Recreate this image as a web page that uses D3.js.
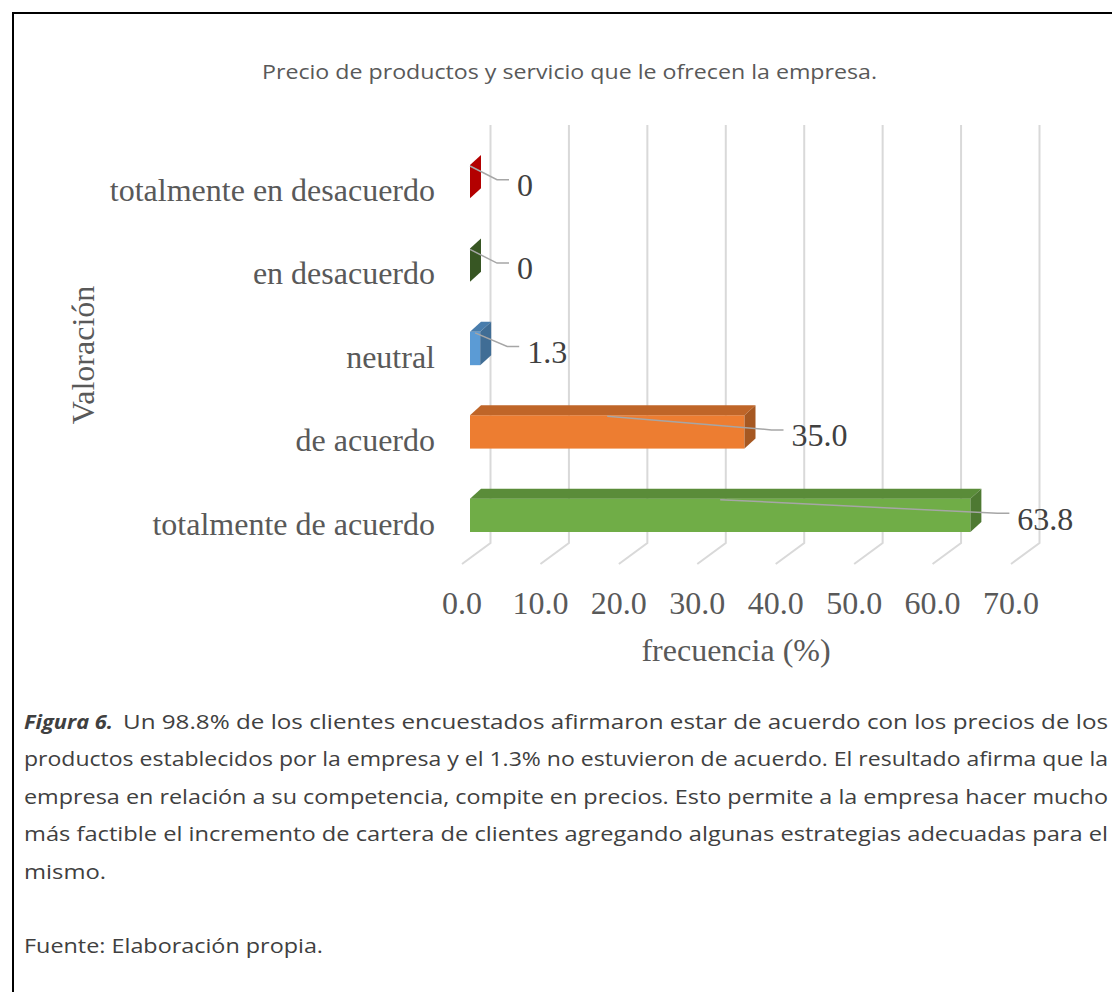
<!DOCTYPE html>
<html>
<head>
<meta charset="utf-8">
<script src="https://cdn.jsdelivr.net/npm/d3@7"></script>
<style>
  body { margin: 0; background: #fff; }
  svg { display: block; }
</style>
</head>
<body>
<svg width="1112" height="992"></svg>
<script>
// data, top row first
var categories = ['totalmente en desacuerdo', 'en desacuerdo', 'neutral', 'de acuerdo', 'totalmente de acuerdo'];
var values = [0, 0, 1.3, 35.0, 63.8];
var valueLabels = ['0', '0', '1.3', '35.0', '63.8'];
var ticks = [0, 10, 20, 30, 40, 50, 60, 70];
var barColors = ['#ff0000', '#4f7b32', '#5b9bd5', '#ed7d31', '#70ad47'];

var title = 'Precio de productos y servicio que le ofrecen la empresa.';
var xTitle = 'frecuencia (%)';
var yTitle = 'Valoración';
var captionLines = [
  'Un 98.8% de los clientes encuestados afirmaron estar de acuerdo con los precios de los',
  'productos establecidos por la empresa y el 1.3% no estuvieron de acuerdo. El resultado afirma que la',
  'empresa en relación a su competencia, compite en precios. Esto permite a la empresa hacer mucho',
  'más factible el incremento de cartera de clientes agregando algunas estrategias adecuadas para el',
  'mismo.'
];
var source = 'Fuente: Elaboración propia.';

var svg = d3.select('svg');
var grey = '#595959';
var serif = '"Liberation Serif", "Times New Roman", serif';
var sans = '"Open Sans", "Noto Sans", sans-serif';

// frame
svg.append('rect').attr('x', 13).attr('y', 13).attr('width', 1200).attr('height', 1200)
   .attr('fill', 'none').attr('stroke', '#000').attr('stroke-width', 2);

svg.append('text').attr('x', 262).attr('y', 79).text(title)
   .attr('font-family', sans).attr('font-size', 20).attr('fill', grey)
   .attr('textLength', 615).attr('lengthAdjust', 'spacingAndGlyphs');

// x scale sits on the front edge of the floor
var x = d3.scaleLinear().domain([0, 70]).range([462, 1011]);
var y = d3.scaleBand().domain(categories).range([165, 532]).paddingInner(0.6).paddingOuter(0);
var barOff = 8, backOff = 28.5, floorTop = 543, floorBot = 564;
var dx = 11, dy = -10;

var grid = svg.append('g').attr('stroke', '#d9d9d9').attr('stroke-width', 2).attr('fill', 'none');
grid.selectAll('path').data(ticks).enter().append('path')
    .attr('d', function (d) {
      return 'M' + (x(d) + backOff) + ',125 L' + (x(d) + backOff) + ',' + floorTop +
             ' L' + x(d) + ',' + floorBot;
    });

svg.append('g').selectAll('text').data(ticks).enter().append('text')
   .attr('x', function (d) { return x(d); }).attr('y', 614)
   .attr('text-anchor', 'middle').attr('font-family', serif).attr('font-size', 32).attr('fill', grey)
   .text(function (d) { return d.toFixed(1); });

svg.append('text').attr('x', 736).attr('y', 661).attr('text-anchor', 'middle')
   .attr('font-family', serif).attr('font-size', 32).attr('fill', grey).text(xTitle);

svg.append('text').attr('transform', 'translate(94,355) rotate(-90)').attr('text-anchor', 'middle')
   .attr('font-family', serif).attr('font-size', 32).attr('fill', grey).text(yTitle);

svg.append('g').selectAll('text').data(categories).enter().append('text')
   .attr('x', 435).attr('y', function (d) { return y(d) + y.bandwidth() / 2 + 8; })
   .attr('dy', '0.35em').attr('text-anchor', 'end')
   .attr('font-family', serif).attr('font-size', 32).attr('fill', grey)
   .text(function (d) { return d; });

// 3d bars
var bars = svg.append('g').selectAll('g').data(values).enter().append('g');
bars.each(function (v, i) {
  var g = d3.select(this);
  var x0 = x(0) + barOff, x1 = x(v) + barOff;
  var yt = y(categories[i]), yb = yt + y.bandwidth();
  var c = d3.color(barColors[i]);
  if (x1 - x0 > 0.5) {
    g.append('rect').attr('x', x0).attr('y', yt).attr('width', x1 - x0).attr('height', yb - yt)
     .attr('fill', c.formatHex());
    g.append('path').attr('fill', c.darker(0.6).formatHex())
     .attr('d', 'M' + x0 + ',' + yt + 'L' + (x0 + dx) + ',' + (yt + dy) + 'L' + (x1 + dx) + ',' + (yt + dy) +
                'L' + x1 + ',' + yt + 'Z');
  }
  g.append('path').attr('fill', c.darker(1).formatHex())
   .attr('d', 'M' + x1 + ',' + yt + 'L' + (x1 + dx) + ',' + (yt + dy) + 'L' + (x1 + dx) + ',' + (yb + dy) +
              'L' + x1 + ',' + yb + 'Z');

  var lx = x1 + dx + 36, ly = (yt + yb) / 2 + 3;
  g.append('path').attr('fill', 'none').attr('stroke', '#a6a6a6').attr('stroke-width', 1.5)
   .attr('d', 'M' + ((x0 + x1) / 2) + ',' + (yt + 1) + 'L' + (lx - 20) + ',' + (ly - 5) + 'L' + (lx - 8) + ',' + (ly - 5));
  g.append('text').attr('x', lx).attr('y', ly).attr('dy', '0.35em')
   .attr('font-family', serif).attr('font-size', 32).attr('fill', '#404040')
   .text(valueLabels[i]);
});

// caption
var cap = svg.append('g').attr('font-family', sans).attr('font-size', 20).attr('fill', '#404040');
cap.append('text').attr('x', 24).attr('y', 729).attr('font-weight', 'bold').attr('font-style', 'italic')
   .attr('textLength', 89).attr('lengthAdjust', 'spacingAndGlyphs').text('Figura 6.');
var lineX = [123, 24, 24, 24, 24];
var lineW = [985, 1084, 1084, 1084, 82];
cap.selectAll('text.l').data(captionLines).enter().append('text').attr('class', 'l')
   .attr('x', function (d, i) { return lineX[i]; })
   .attr('y', function (d, i) { return 729 + i * 37.4; })
   .attr('textLength', function (d, i) { return lineW[i]; })
   .attr('lengthAdjust', 'spacingAndGlyphs')
   .text(function (d) { return d; });
cap.append('text').attr('x', 24).attr('y', 953).attr('textLength', 299)
   .attr('lengthAdjust', 'spacingAndGlyphs').text(source);
</script>
</body>
</html>
